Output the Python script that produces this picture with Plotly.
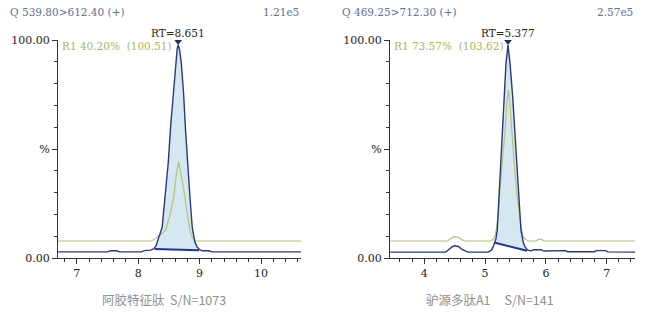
import numpy as np
import plotly.graph_objects as go

# ---------------- data ----------------
# Left chromatogram (阿胶特征肽)
t1_blue = [6.69, 7.50, 7.55, 7.65, 7.70, 8.05, 8.10, 8.20, 8.25, 8.29, 8.33, 8.39, 8.44, 8.49, 8.53,
           8.57, 8.61, 8.635, 8.651, 8.67, 8.70, 8.74, 8.77, 8.80, 8.84, 8.88, 8.92, 8.96, 9.00,
           9.05, 9.15, 9.20, 10.65]
i1_blue = [2.8, 2.8, 3.3, 3.3, 2.8, 2.8, 3.4, 3.6, 4.2, 5.5, 9, 14, 29, 44, 61,
           75, 90, 96, 97.7, 96, 90, 75, 59, 44, 29, 14, 7.5, 5, 3.8,
           3.3, 3.3, 2.8, 2.8]
t1_green = [6.69, 8.22, 8.28, 8.33, 8.40, 8.45, 8.52, 8.58, 8.62, 8.657, 8.69, 8.72, 8.76, 8.80,
            8.84, 8.88, 8.93, 10.65]
i1_green = [7.8, 7.8, 9, 10, 11.5, 13, 20, 28, 38, 44.2, 40, 35, 28, 20,
            12.8, 9.5, 7.8, 7.8]
base1_t = [8.27, 8.99]
base1_i = [4.1, 3.5]
rt1 = 8.651
hdr1 = "Q 539.80>612.40 (+)"
scale1 = "1.21e5"
ratio1 = "R1 40.20%  (100.51)"
cap1 = "阿胶特征肽  S/N=1073"

# Right chromatogram (驴源多肽A1)
t2_blue = [3.44, 4.35, 4.40, 4.45, 4.50, 4.56, 4.62, 4.68, 4.72, 5.05, 5.10, 5.135, 5.16, 5.18,
           5.20, 5.23, 5.257, 5.29, 5.311, 5.344, 5.377, 5.41, 5.454, 5.49, 5.52, 5.56, 5.59,
           5.63, 5.66, 5.70, 5.75, 5.80, 5.92, 5.97, 6.20, 6.25, 6.32, 6.36, 6.80, 6.83, 6.98,
           7.02, 7.466]
i2_blue = [2.7, 2.7, 3.8, 5.0, 5.6, 5.3, 4.0, 3.0, 2.7, 2.7, 3.5, 5.2, 7.0, 9,
           12.8, 28, 43.4, 60, 74, 89.3, 97.7, 89.3, 74, 58, 43.4, 28, 12.8,
           7, 5, 3.7, 3.3, 3.8, 3.8, 3.2, 3.2, 3.4, 3.4, 2.9, 2.9, 3.4, 3.4,
           2.8, 2.7]
t2_green = [3.44, 4.38, 4.44, 4.50, 4.56, 4.62, 4.68, 5.08, 5.13, 5.16, 5.19, 5.22, 5.25, 5.283,
            5.33, 5.36, 5.382, 5.41, 5.437, 5.48, 5.52, 5.56, 5.60, 5.63, 5.67, 5.72, 5.84,
            5.88, 5.93, 5.97, 7.466]
i2_green = [7.8, 7.8, 9.0, 9.8, 9.5, 8.3, 7.8, 7.8, 8.5, 9.6, 14, 21, 33, 43.4,
            58.7, 72, 77, 70, 58.7, 43.4, 30, 20.5, 13, 9.6, 8.5, 7.8, 7.8,
            8.5, 8.5, 7.8, 7.8]
base2_t = [5.163, 5.69]
base2_i = [7.0, 3.3]
rt2 = 5.377
hdr2 = "Q 469.25>712.30 (+)"
scale2 = "2.57e5"
ratio2 = "R1 73.57%  (103.62)"
cap2 = "驴源多肽A1     S/N=141"

# ---------------- styling ----------------
W, H = 649, 314
ML, MR, MT, MB = 0, 0, 40, 56
BLUE = "#2a3883"
GREEN = "#b8c46e"
FILL = "#d5e8f2"
BASE = "#1c30a8"
HDR = "#5e6ea6"
SERIF = "DejaVu Serif"

fig = go.Figure()


def peak_fill(t, i, bt, bi):
    t = np.asarray(t, float)
    i = np.asarray(i, float)
    m = (t > bt[0]) & (t < bt[1])
    pt = np.concatenate([[bt[0]], t[m], [bt[1]]])
    pi = np.concatenate([[np.interp(bt[0], t, i)], i[m], [np.interp(bt[1], t, i)]])
    xs = np.concatenate([pt, [bt[1], bt[0]]])
    ys = np.concatenate([pi, [bi[1], bi[0]]])
    return xs, ys


panels = [
    ("x", "y", t1_blue, i1_blue, t1_green, i1_green, base1_t, base1_i, rt1),
    ("x2", "y2", t2_blue, i2_blue, t2_green, i2_green, base2_t, base2_i, rt2),
]
for xa, ya, tb, ib, tg, ig, bt, bi, rt in panels:
    fx, fy = peak_fill(tb, ib, bt, bi)
    fig.add_trace(go.Scatter(x=fx, y=fy, xaxis=xa, yaxis=ya, mode="lines", fill="toself",
                             fillcolor=FILL, line=dict(width=0), hoverinfo="skip"))
    fig.add_trace(go.Scatter(x=tg, y=ig, xaxis=xa, yaxis=ya, mode="lines",
                             line=dict(color=GREEN, width=1.2)))
    fig.add_trace(go.Scatter(x=tb, y=ib, xaxis=xa, yaxis=ya, mode="lines",
                             line=dict(color=BLUE, width=1.4)))
    fig.add_trace(go.Scatter(x=bt, y=bi, xaxis=xa, yaxis=ya, mode="lines",
                             line=dict(color=BASE, width=2)))
    fig.add_trace(go.Scatter(x=[rt], y=[99.3], xaxis=xa, yaxis=ya, mode="markers",
                             marker=dict(symbol="triangle-down", size=7, color="#1f2d6b")))

axis_common = dict(showline=True, linecolor="#333", linewidth=1, ticks="outside",
                   tickcolor="#333", ticklen=5, showgrid=False, zeroline=False,
                   tickfont=dict(family=SERIF, size=11, color="#222"))

x1_dom = [58 / W, 301 / W]
x2_dom = [390 / W, 635 / W]

fig.update_layout(
    width=W, height=H, margin=dict(l=ML, r=MR, t=MT, b=MB),
    paper_bgcolor="white", plot_bgcolor="white", showlegend=False,
    xaxis=dict(domain=x1_dom, range=[6.695, 10.65], anchor="y", dtick=1, tick0=0,
               minor=dict(dtick=0.2, tick0=0, ticks="outside", ticklen=3, tickcolor="#333"),
               **axis_common),
    xaxis2=dict(domain=x2_dom, range=[3.436, 7.466], anchor="y2", dtick=1, tick0=0,
                minor=dict(dtick=0.2, tick0=0, ticks="outside", ticklen=3, tickcolor="#333"),
                **axis_common),
    yaxis=dict(domain=[0, 1], range=[0, 100], anchor="x", tickmode="array",
               tickvals=[0, 50, 100], ticktext=["0.00", "%", "100.00"],
               minor=dict(tickmode="linear", dtick=10, tick0=0, ticks="outside", ticklen=3,
                          tickcolor="#333"),
               **axis_common),
    yaxis2=dict(domain=[0, 1], range=[0, 100], anchor="x2", tickmode="array",
                tickvals=[0, 50, 100], ticktext=["0.00", "%", "100.00"],
                minor=dict(tickmode="linear", dtick=10, tick0=0, ticks="outside", ticklen=3,
                           tickcolor="#333"),
                **axis_common),
)


def py(p):
    return (H - MB - p) / (H - MT - MB)


anns = []
for hdr, sc, ratio, cap, xd, xa, ya, rt, capx in [
    (hdr1, scale1, ratio1, cap1, x1_dom, "x", "y", rt1, 100),
    (hdr2, scale2, ratio2, cap2, x2_dom, "x2", "y2", rt2, 424),
]:
    anns.append(dict(text=hdr, xref="paper", yref="paper", x=xd[0] - 50 / W, y=py(12),
                     xanchor="left", yanchor="middle", showarrow=False,
                     font=dict(family=SERIF, size=10.5, color=HDR)))
    anns.append(dict(text=sc, xref="paper", yref="paper", x=xd[1], y=py(12),
                     xanchor="right", yanchor="middle", showarrow=False,
                     font=dict(family=SERIF, size=10.5, color=HDR)))
    anns.append(dict(text="RT=" + f"{rt:.3f}", xref=xa, yref="paper", x=rt, y=py(33),
                     xanchor="center", yanchor="middle", showarrow=False,
                     font=dict(family=SERIF, size=10.5, color="#222")))
    anns.append(dict(text=ratio, xref="paper", yref="paper", x=xd[0] + 2 / W, y=py(46),
                     xanchor="left", yanchor="middle", showarrow=False,
                     font=dict(family=SERIF, size=10.5, color="#a9b65a")))
    anns.append(dict(text=cap, xref="paper", yref="paper", x=capx / W, y=py(299),
                     xanchor="left", yanchor="middle", showarrow=False,
                     font=dict(family="Noto Sans CJK SC", size=12.5, color="#8f8f8f")))
fig.update_layout(annotations=anns)

fig.write_html("out.html")
